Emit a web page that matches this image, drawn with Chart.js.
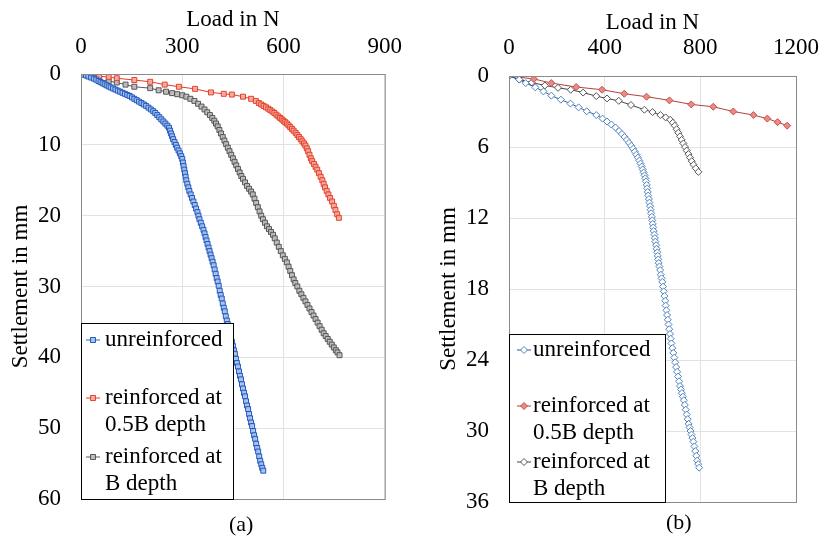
<!DOCTYPE html>
<html>
<head>
<meta charset="utf-8">
<script src="https://cdn.jsdelivr.net/npm/chart.js@4.4.1/dist/chart.umd.min.js"></script>
<style>
  body { margin: 0; background: #fff; width: 833px; height: 538px; position: relative; overflow: hidden; }
  .box { position: absolute; top: 0; height: 538px; }
  .cap { position: absolute; font-family: 'Liberation Serif', serif; font-size: 22px; color: #000; }
</style>
</head>
<body>
<div class="box" style="left:0;width:415px"><canvas id="chartA"></canvas></div>
<div class="box" style="left:420px;width:413px"><canvas id="chartB"></canvas></div>
<div class="cap" style="left:229px;top:511px">(a)</div>
<div class="cap" style="left:666px;top:509px">(b)</div>
<script>
// ---- data: [load N, settlement mm]
var seriesNames = ['unreinforced', 'reinforced at 0.5B depth', 'reinforced at B depth'];
var legendLines = [['unreinforced'], ['reinforced at', '0.5B depth'], ['reinforced at', 'B depth']];

// (a)
var xTicksA = [0, 300, 600, 900];
var yTicksA = [0, 10, 20, 30, 40, 50, 60];
var unreinforcedA = [[0,0],[8,0.1],[15,0.2],[22,0.35],[30,0.5],[38,0.65],[45,0.8],[52,1.0],[58,1.15],[64,1.3],[70,1.45],[76,1.6],[82,1.75],[88,1.9],[95,2.05],[102,2.2],[109,2.35],[116,2.5],[123,2.65],[130,2.8],[137,2.95],[144,3.1],[151,3.3],[158,3.5],[165,3.7],[172,3.9],[179,4.1],[186,4.3],[193,4.5],[200,4.75],[207,5.0],[214,5.25],[220,5.5],[226,5.8],[232,6.1],[238,6.4],[244,6.7],[250,7.0],[256,7.3],[261,7.6],[264,8.0],[267,8.4],[270,8.8],[273,9.2],[277,9.6],[281,10.0],[285,10.4],[289,10.8],[293,11.2],[297,11.6],[300,12.0],[302,12.5],[304,13.0],[306,13.5],[308,14.0],[310,14.5],[312,15.0],[315,15.5],[318,16.0],[321,16.5],[325,17.0],[329,17.5],[333,18.0],[337,18.5],[341,19.0],[345,19.5],[348,20.0],[351,20.5],[355,21.0],[359,21.5],[363,22.0],[366,22.5],[369,23.0],[372,23.5],[375,24.0],[378,24.5],[381,25.0],[384,25.5],[387,26.0],[390,26.5],[393,27.0],[396,27.6],[399,28.2],[402,28.8],[405,29.3],[408,29.9],[411,30.6],[414,31.2],[417,31.7],[420,32.4],[423,33.0],[426,33.5],[429,34.2],[432,34.8],[435,35.3],[438,36.0],[441,36.6],[444,37.1],[447,37.8],[450,38.4],[453,39.0],[456,39.5],[459,40.2],[462,40.8],[465,41.3],[468,42.0],[471,42.6],[474,43.1],[477,43.8],[480,44.4],[483,45.0],[486,45.5],[489,46.2],[492,46.8],[495,47.3],[498,48.0],[501,48.6],[504,49.2],[507,49.7],[510,50.4],[513,51.0],[516,51.5],[519,52.2],[522,52.8],[525,53.3],[528,54.0],[531,54.6],[534,55.1],[537,55.6],[540,56.0]];
var halfBA = [[0,0],[20,0.1],[54,0.3],[82,0.45],[106,0.6],[158,0.85],[205,1.1],[248,1.5],[290,1.8],[338,2.1],[385,2.6],[423,2.8],[447,2.9],[480,3.2],[504,3.5],[518,3.8],[527,4.1],[534,4.3],[541,4.5],[548,4.7],[555,4.9],[561,5.1],[567,5.3],[573,5.5],[579,5.75],[585,6.0],[590,6.2],[595,6.4],[600,6.6],[605,6.8],[610,7.0],[615,7.25],[620,7.5],[625,7.75],[630,8.0],[636,8.3],[641,8.6],[646,8.9],[651,9.2],[656,9.5],[661,9.8],[665,10.1],[669,10.5],[673,10.9],[677,11.4],[681,11.9],[685,12.3],[690,12.7],[695,13.1],[700,13.5],[705,14.0],[710,14.5],[715,15.0],[719,15.5],[723,16.0],[728,16.5],[733,17.0],[738,17.5],[744,18.0],[749,18.6],[754,19.2],[759,19.8],[764,20.3]];
var fullBA = [[0,0],[20,0.2],[54,0.85],[82,1.0],[106,1.2],[132,1.5],[158,1.8],[205,2.0],[230,2.3],[252,2.5],[270,2.7],[285,2.85],[300,3.0],[312,3.2],[324,3.5],[336,3.8],[347,4.2],[357,4.6],[366,5.0],[374,5.4],[382,5.8],[389,6.2],[395,6.6],[400,7.0],[405,7.4],[410,7.9],[415,8.4],[420,8.9],[425,9.4],[430,9.9],[435,10.4],[440,10.9],[445,11.4],[450,11.9],[455,12.4],[460,12.9],[465,13.4],[470,13.9],[475,14.4],[480,14.8],[486,15.3],[492,15.8],[498,16.2],[504,16.6],[509,17.0],[514,17.6],[519,18.2],[524,18.8],[529,19.4],[534,20.0],[539,20.5],[545,21.0],[551,21.5],[557,21.9],[563,22.3],[569,22.7],[574,23.2],[580,23.8],[586,24.4],[592,25.0],[598,25.6],[604,26.1],[610,26.6],[615,27.2],[620,27.8],[625,28.4],[630,29.0],[635,29.5],[641,30.0],[647,30.6],[653,31.1],[659,31.6],[665,32.1],[671,32.6],[677,33.1],[683,33.6],[689,34.1],[695,34.6],[701,35.1],[707,35.6],[713,36.1],[719,36.6],[725,37.0],[731,37.4],[737,37.8],[743,38.2],[749,38.6],[755,39.0],[760,39.3],[766,39.7]];

// (b)
var xTicksB = [0, 400, 800, 1200];
var yTicksB = [0, 6, 12, 18, 24, 30, 36];
var unreinforcedB = [[0,0],[43,0.3],[70,0.6],[110,0.96],[144,1.3],[177,1.66],[217,2.0],[257,2.33],[291,2.65],[325,2.98],[365,3.3],[391,3.6],[410,3.85],[428,4.1],[445,4.35],[460,4.65],[472,4.9],[483,5.15],[493,5.4],[502,5.65],[511,5.9],[519,6.15],[526,6.4],[533,6.65],[539,6.9],[545,7.15],[550,7.4],[555,7.65],[559,7.9],[563,8.15],[567,8.4],[570,8.65],[573,8.9],[576,9.2],[578,9.5],[580,9.8],[582,10.1],[585,10.4],[587,10.7],[590,11.0],[592,11.3],[594,11.6],[597,11.9],[599,12.2],[601,12.5],[603,12.8],[605,13.1],[608,13.4],[610,13.7],[612,14.0],[615,14.3],[617,14.6],[620,14.9],[622,15.2],[624,15.5],[626,15.8],[629,16.1],[632,16.4],[635,16.8],[638,17.1],[641,17.4],[644,17.8],[647,18.2],[650,18.6],[653,19.0],[655,19.4],[658,19.8],[661,20.2],[664,20.6],[667,21.0],[670,21.4],[673,21.8],[676,22.2],[679,22.6],[683,23.0],[687,23.4],[691,23.8],[695,24.2],[699,24.6],[703,25.0],[707,25.4],[711,25.8],[715,26.2],[719,26.5],[723,26.8],[727,27.1],[731,27.4],[735,27.8],[739,28.2],[743,28.6],[747,29.0],[751,29.4],[755,29.7],[759,30.0],[763,30.3],[767,30.6],[771,30.9],[775,31.3],[779,31.7],[783,32.1],[787,32.5],[791,32.8],[795,33.1]];
var halfBB = [[0,0],[104,0.25],[177,0.6],[281,0.93],[389,1.16],[482,1.5],[575,1.75],[671,2.06],[762,2.4],[854,2.6],[938,3.0],[1022,3.3],[1080,3.6],[1123,3.9],[1163,4.2]];
var fullBB = [[0,0],[43,0.3],[95,0.55],[150,0.8],[205,1.0],[258,1.16],[310,1.4],[365,1.7],[410,1.9],[459,2.1],[510,2.45],[566,2.85],[600,3.05],[633,3.3],[655,3.5],[674,3.7],[685,3.95],[693,4.2],[701,4.5],[708,4.8],[715,5.1],[722,5.4],[729,5.7],[736,6.0],[743,6.3],[750,6.6],[757,6.9],[764,7.2],[772,7.5],[781,7.8],[792,8.1]];

var FONT = "'Liberation Serif', 'Times New Roman', serif";

function toXY(arr){
  return arr.map(function(p){ return {x: p[0], y: p[1]}; });
}

// frame round the plot area + boxed legend in lower left
var framePlugin = {
  id: 'frame',
  afterDraw: function(chart, args, opts){
    var ctx = chart.ctx, a = chart.chartArea;
    ctx.save();
    ctx.strokeStyle = '#8a8a8a';
    ctx.lineWidth = 1;
    ctx.strokeRect(a.left + 0.5, a.top + 0.5, a.right - a.left, a.bottom - a.top);

    var lg = opts.legend;
    var x0 = a.left, y0 = lg.top, w = lg.width, h = a.bottom - lg.top;
    ctx.fillStyle = '#fff';
    ctx.fillRect(x0, y0, w, h);
    ctx.strokeStyle = '#000';
    ctx.strokeRect(x0 + 0.5, y0 + 0.5, w, h);
    ctx.font = '23px ' + FONT;
    ctx.textBaseline = 'middle';
    ctx.textAlign = 'left';
    chart.data.datasets.forEach(function(ds, i){
      var yy = lg.rows[i];
      var mx = x0 + lg.markX;
      ctx.strokeStyle = ds.borderColor;
      ctx.lineWidth = 1;
      ctx.beginPath();
      ctx.moveTo(mx - 7, yy);
      ctx.lineTo(mx + 7, yy);
      ctx.stroke();
      ctx.fillStyle = ds.pointBackgroundColor;
      ctx.strokeStyle = ds.pointBorderColor;
      Chart.helpers.drawPoint(ctx, {pointStyle: ds.pointStyle, radius: 3.5, rotation: 0, borderWidth: 1}, mx, yy);
      ctx.fillStyle = '#000';
      legendLines[i].forEach(function(t, k){
        ctx.fillText(t, x0 + lg.textX, yy + k * 27);
      });
    });
    ctx.restore();
  }
};

function makeChart(id, sets, xTicks, yTicks, style, pad, yWidth, xHeight, titlePad, legend){
  var datasets = sets.map(function(s, i){
    return {
      label: seriesNames[i],
      data: toXY(s),
      showLine: true,
      borderColor: style.line[i],
      borderWidth: 1,
      pointStyle: style.shape,
      pointRadius: style.radius,
      pointBorderColor: style.mark[i],
      pointBackgroundColor: style.fill[i],
      pointBorderWidth: 1
    };
  });
  return new Chart(document.getElementById(id), {
    type: 'scatter',
    data: {datasets: datasets},
    options: {
      responsive: true,
      maintainAspectRatio: false,
      animation: false,
      layout: {padding: pad},
      plugins: {legend: {display: false}, tooltip: {enabled: false}, frame: {legend: legend}},
      scales: {
        x: {
          type: 'linear', position: 'top',
          min: xTicks[0], max: xTicks[xTicks.length - 1],
          afterBuildTicks: function(s){ s.ticks = xTicks.map(function(v){ return {value: v}; }); },
          afterFit: function(s){ s.height = xHeight; },
          grid: {color: '#e2e2e2', drawTicks: false},
          border: {display: false},
          ticks: {color: '#000', padding: titlePad.xt, font: {family: FONT, size: 23}, maxRotation: 0,
                  callback: function(v){ return String(v); }},
          title: {display: true, text: 'Load in N', color: '#000', font: {family: FONT, size: 23}, padding: {top: titlePad.x, bottom: 0}}
        },
        y: {
          type: 'linear', reverse: true,
          min: yTicks[0], max: yTicks[yTicks.length - 1],
          afterBuildTicks: function(s){ s.ticks = yTicks.map(function(v){ return {value: v}; }); },
          afterFit: function(s){ s.width = yWidth; },
          grid: {color: '#e2e2e2', drawTicks: false},
          border: {display: false},
          ticks: {color: '#000', padding: 20, font: {family: FONT, size: 23},
                  callback: function(v){ return String(v); }},
          title: {display: true, text: 'Settlement in mm', color: '#000', font: {family: FONT, size: 23}, padding: {top: titlePad.y, bottom: 0}}
        }
      }
    },
    plugins: [framePlugin]
  });
}

makeChart('chartA', [unreinforcedA, halfBA, fullBA], xTicksA, yTicksA, {
  shape: 'rect', radius: 3.5,
  line: ['#2a62c4', '#e23a22', '#5a5a5a'],
  mark: ['#1f58c0', '#e5402a', '#555555'],
  fill: ['rgba(170,195,235,0.9)', 'rgba(245,170,160,0.9)', 'rgba(190,190,190,0.9)']
}, {left: 0, top: 0, right: 17, bottom: 39}, 81, 74, {x: 6, xt: 13, y: 7},
  {top: 323, width: 152, markX: 12, textX: 24, rows: [340, 398, 457]});

makeChart('chartB', [unreinforcedB, halfBB, fullBB], xTicksB, yTicksB, {
  shape: 'rectRot', radius: 3.5,
  line: ['#2d5d9a', '#b5413c', '#444444'],
  mark: ['#4f82c0', '#c8504b', '#555555'],
  fill: ['#ffffff', '#e88a86', '#ffffff']
}, {left: 0, top: 0, right: 25, bottom: 36}, 89, 76, {x: 9, xt: 14, y: 15},
  {top: 334, width: 156, markX: 15, textX: 24, rows: [350, 406, 462]});
</script>
</body>
</html>
